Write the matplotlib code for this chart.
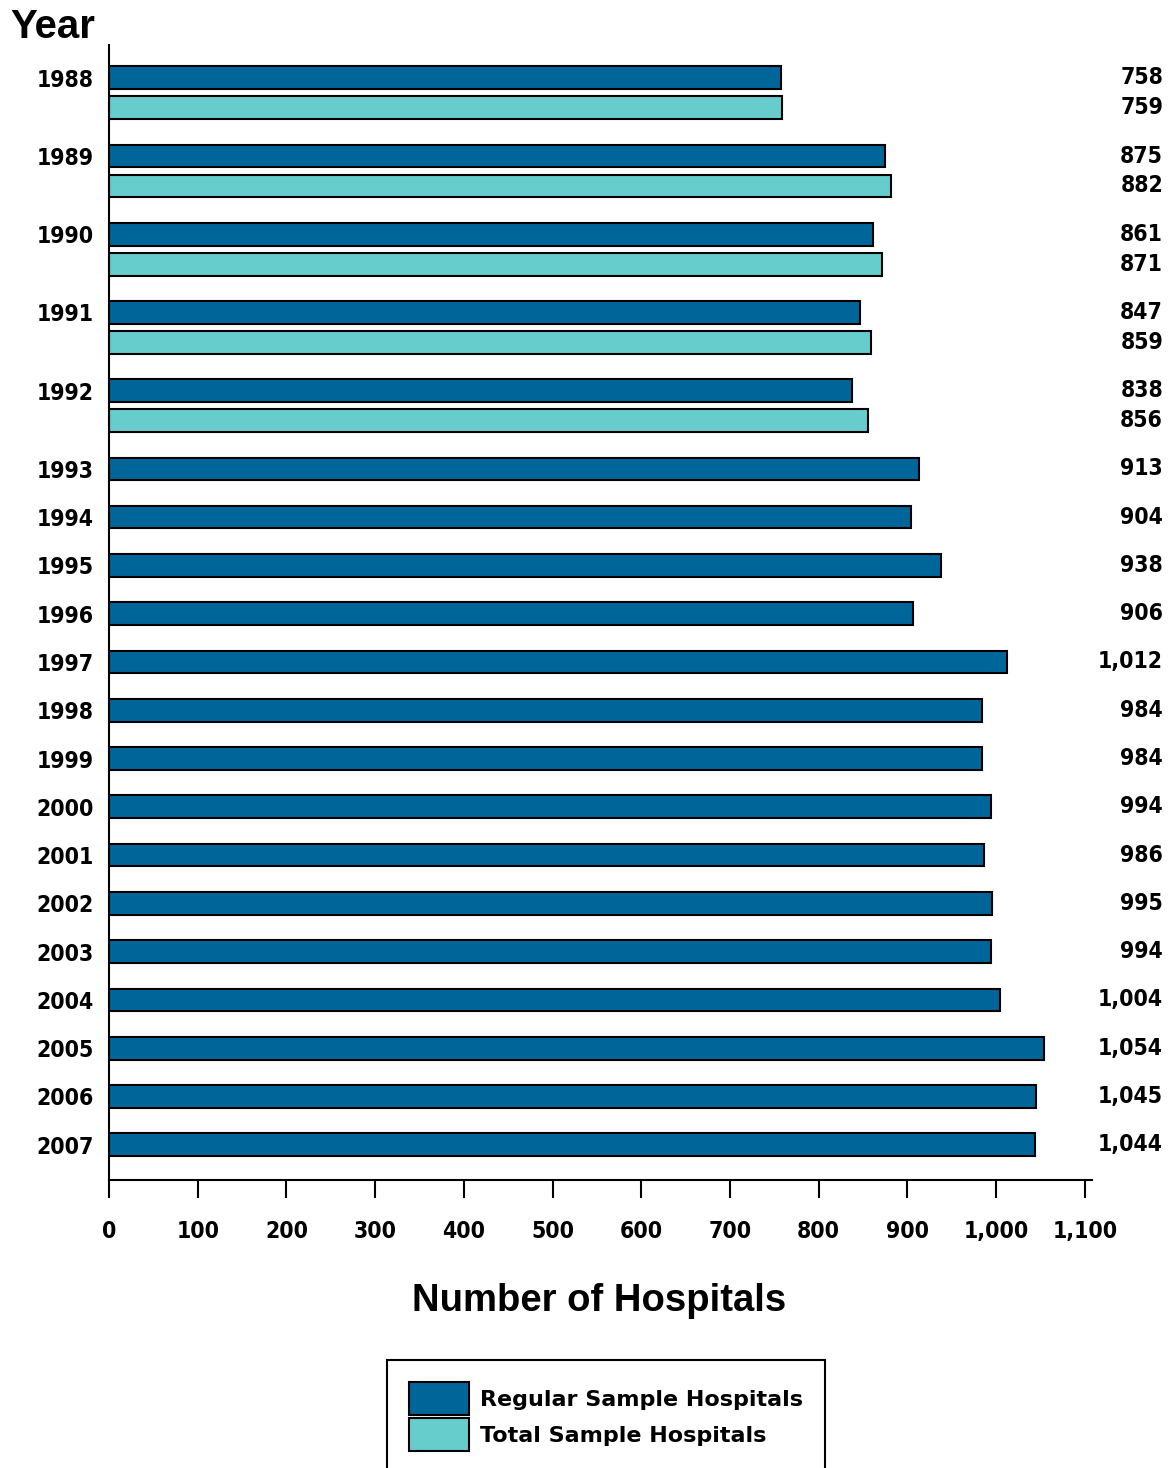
import numpy as np
import matplotlib.pyplot as plt
import matplotlib.transforms as mtransforms
from matplotlib.patches import Patch
from matplotlib import font_manager

# Data
years = [1988, 1989, 1990, 1991, 1992, 1993, 1994, 1995, 1996, 1997,
         1998, 1999, 2000, 2001, 2002, 2003, 2004, 2005, 2006, 2007]
regular = [758, 875, 861, 847, 838, 913, 904, 938, 906, 1012,
           984, 984, 994, 986, 995, 994, 1004, 1054, 1045, 1044]
total_years = [1988, 1989, 1990, 1991, 1992]
total = [759, 882, 871, 859, 856]

dark_blue = '#006699'
teal = '#66CCCC'
arial = ['Liberation Sans', 'DejaVu Sans']

# narrow bold face for the numbers (falls back to plain bold)
cond = [f for f in font_manager.fontManager.ttflist
        if f.weight in ('bold', 700) and f.stretch in ('condensed', 'semi-condensed', 'extra-condensed')]
narrow_path = cond[0].fname if cond else None


def narrow_font(size):
    if narrow_path:
        return font_manager.FontProperties(fname=narrow_path, size=size)
    return font_manager.FontProperties(family='DejaVu Sans', weight='bold', size=size)


# bar slots: one row per bar, a small offset for the paired bar
pair_off = 0.62
pos_reg, pos_tot = [], []
y = 0.0
for yr in years:
    pos_reg.append(y)
    if yr in total_years:
        pos_tot.append(y + pair_off)
        y += pair_off
    y += 1.0

fig = plt.figure(figsize=(11.72, 14.68), dpi=100)
ax = fig.add_axes([109 / 1172, 1 - 1180 / 1468, (1092 - 109) / 1172, (1180 - 45) / 1468])

h = 0.47
ax.barh(pos_reg, regular, height=h, color=dark_blue, edgecolor='black', linewidth=1.5)
ax.barh(pos_tot, total, height=h, color=teal, edgecolor='black', linewidth=1.5)

ax.set_xlim(0, 1108)
ax.set_ylim(pos_reg[-1] + 0.73, -0.68)

ax.set_xticks(np.arange(0, 1101, 100))
ax.set_xticklabels([f'{v:,}' for v in range(0, 1101, 100)])
ax.set_yticks(pos_reg)
ax.set_yticklabels([str(yr) for yr in years])

fs = 16.5
for lab in ax.get_xticklabels() + ax.get_yticklabels():
    lab.set_fontproperties(narrow_font(fs))

ax.tick_params(axis='y', length=0, pad=11)
ax.tick_params(axis='x', length=13, width=1.5, pad=16, direction='out')

for s in ['top', 'right']:
    ax.spines[s].set_visible(False)
for s in ['left', 'bottom']:
    ax.spines[s].set_linewidth(1.5)

# value labels at the far right
trans = mtransforms.blended_transform_factory(fig.transFigure, ax.transData)
for p, v in zip(pos_reg, regular):
    ax.text(1163 / 1172, p, f'{v:,}', transform=trans, ha='right', va='center',
            fontproperties=narrow_font(fs))
for p, v in zip(pos_tot, total):
    ax.text(1163 / 1172, p, f'{v:,}', transform=trans, ha='right', va='center',
            fontproperties=narrow_font(fs))

fig.text(10 / 1172, 1 - 27 / 1468, 'Year', ha='left', va='center',
         fontsize=29, fontweight='bold', family=arial)
fig.text(599 / 1172, 1 - 1301 / 1468, 'Number of Hospitals', ha='center', va='center',
         fontsize=27.5, fontweight='bold', family=arial)

handles = [Patch(facecolor=dark_blue, edgecolor='black', linewidth=1.5),
           Patch(facecolor=teal, edgecolor='black', linewidth=1.5)]
leg = fig.legend(handles, ['Regular Sample Hospitals', 'Total Sample Hospitals'],
                 loc='upper center', bbox_to_anchor=(606 / 1172, 1 - 1360 / 1468),
                 prop={'family': 'DejaVu Sans', 'weight': 'bold', 'size': 16},
                 handlelength=2.7, handleheight=1.9, handletextpad=0.5,
                 labelspacing=0.15, borderpad=1.0, borderaxespad=0, fancybox=False,
                 framealpha=1)
leg.get_frame().set_edgecolor('black')
leg.get_frame().set_linewidth(1.5)

fig.savefig('out.png', dpi=100)
